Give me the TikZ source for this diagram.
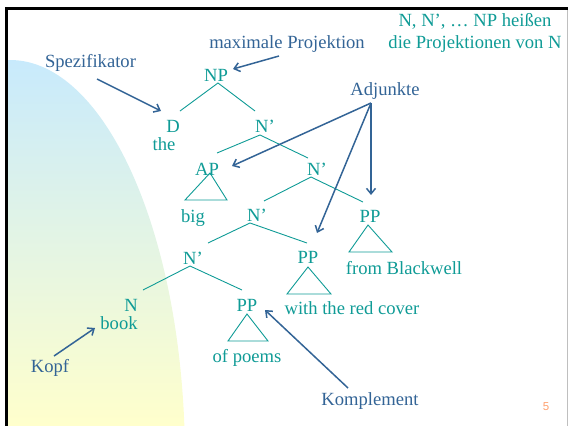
\documentclass[tikz,border=0pt]{standalone}
\usepackage{fontspec}
\setmainfont{Liberation Serif}
\newfontfamily\numfont{Liberation Sans}
\usetikzlibrary{arrows.meta}
\definecolor{treecol}{RGB}{15,155,150}
\definecolor{annocol}{RGB}{51,100,150}
\definecolor{topblue}{RGB}{200,234,252}
\definecolor{botyellow}{RGB}{255,255,204}
\definecolor{numcol}{RGB}{255,160,110}
\tikzset{
  tree/.style={text=treecol, inner sep=0pt, anchor=base, font=\fontsize{18.6}{22}\selectfont},
  anno/.style={text=annocol, inner sep=0pt, anchor=base, font=\fontsize{18.6}{22}\selectfont},
  branch/.style={draw=treecol, line width=0.9pt},
  pointer/.style={draw=annocol, line width=1.5pt, -{Straight Barb[length=5.5pt,width=9pt,line width=1.5pt]}}
}
\begin{document}
\begin{tikzpicture}[x=1pt,y=-1pt]
\useasboundingbox (0,0) rectangle (568,426);
% background gradient shape
\begin{scope}
  \clip (10,460) ellipse [x radius=175, y radius=400];
  \shade[top color=topblue, bottom color=botyellow] (6,60) rectangle (200,426);
\end{scope}
% frame
\draw[black, line width=3pt] (6.5,426) -- (6.5,8.5) -- (568,8.5);
\draw[black!25, line width=1pt] (567,10) -- (567,426);

% tree labels
\node[tree] (np) at (216,81.7) {NP};
\node[tree] (d) at (173,132.7) {D};
\node[tree] (the) at (164,150.7) {the};
\node[tree] (nb1) at (265,132.7) {N’};
\node[tree] (ap) at (207,175) {AP};
\node[tree] (big) at (193,222) {big};
\node[tree] (nb2) at (317,175) {N’};
\node[tree] (nb3) at (257,221.7) {N’};
\node[tree] (ppb) at (370,222.7) {PP};
\node[tree] (blackwell) at (404,274) {from Blackwell};
\node[tree] (ppr) at (308,263.7) {PP};
\node[tree] (nb4) at (193,264) {N’};
\node[tree] (redcover) at (352,314.7) {with the red cover};
\node[tree] (n) at (131,311.3) {N};
\node[tree] (book) at (119,329.7) {book};
\node[tree] (ppp) at (247,311.3) {PP};
\node[tree] (poems) at (247,362) {of poems};

% top-right note
\node[tree] (note1) at (475,26.7) {N, N’, … NP heißen};
\node[tree] (note2) at (475,48.3) {die Projektionen von N};

% annotations
\node[anno] (maxp) at (287,48) {maximale Projektion};
\node[anno] (spez) at (90.5,67.7) {Spezifikator};
\node[anno] (adj) at (385,95.7) {Adjunkte};
\node[anno] (kopf) at (50,372) {Kopf};
\node[anno] (kompl) at (370,405) {Komplement};
\node[text=numcol, inner sep=0pt, font=\numfont\fontsize{11.5}{13}\selectfont] (pnum) at (546,407) {5};

% branch coordinates
\coordinate (npA) at (218,83);  \coordinate (npL) at (180,111); \coordinate (npR) at (255,111);
\coordinate (n1A) at (260,135); \coordinate (n1L) at (217,153); \coordinate (n1R) at (308,158);
\coordinate (apA) at (210,173); \coordinate (apL) at (185,200); \coordinate (apR) at (227,200);
\coordinate (n2A) at (311,177); \coordinate (n2L) at (264,201); \coordinate (n2R) at (363,202);
\coordinate (pbA) at (368,225); \coordinate (pbL) at (349,252); \coordinate (pbR) at (392,252);
\coordinate (n3A) at (250,223); \coordinate (n3L) at (208,243); \coordinate (n3R) at (307,243);
\coordinate (prA) at (308,267); \coordinate (prL) at (287,294); \coordinate (prR) at (331,294);
\coordinate (n4A) at (190,266); \coordinate (n4L) at (143,290); \coordinate (n4R) at (242,290);
\coordinate (ppA) at (247,314); \coordinate (ppL) at (228,341); \coordinate (ppR) at (268,341);

\draw[branch] (npL) -- (npA) -- (npR);
\draw[branch] (n1L) -- (n1A) -- (n1R);
\draw[branch] (apL) -- (apA) -- (apR) -- cycle;
\draw[branch] (n2L) -- (n2A) -- (n2R);
\draw[branch] (pbL) -- (pbA) -- (pbR) -- cycle;
\draw[branch] (n3L) -- (n3A) -- (n3R);
\draw[branch] (prL) -- (prA) -- (prR) -- cycle;
\draw[branch] (n4L) -- (n4A) -- (n4R);
\draw[branch] (ppL) -- (ppA) -- (ppR) -- cycle;

% pointer coordinates
\coordinate (maxS) at (279,56);  \coordinate (maxE) at (233,69);
\coordinate (spezS) at (97,79);  \coordinate (spezE) at (161,111);
\coordinate (adjS) at (371,103);
\coordinate (adjAP) at (232,166);
\coordinate (adjPR) at (317,233);
\coordinate (adjPB) at (371,195);
\coordinate (kopfS) at (54,356); \coordinate (kopfE) at (95,328);
\coordinate (komS) at (348,388); \coordinate (komE) at (265,310);

\draw[pointer] (maxS) -- (maxE);
\draw[pointer] (spezS) -- (spezE);
\draw[pointer] (adjS) -- (adjAP);
\draw[pointer] (adjS) -- (adjPR);
\draw[pointer] (adjS) -- (adjPB);
\draw[pointer] (kopfS) -- (kopfE);
\draw[pointer] (komS) -- (komE);
\end{tikzpicture}
\end{document}
